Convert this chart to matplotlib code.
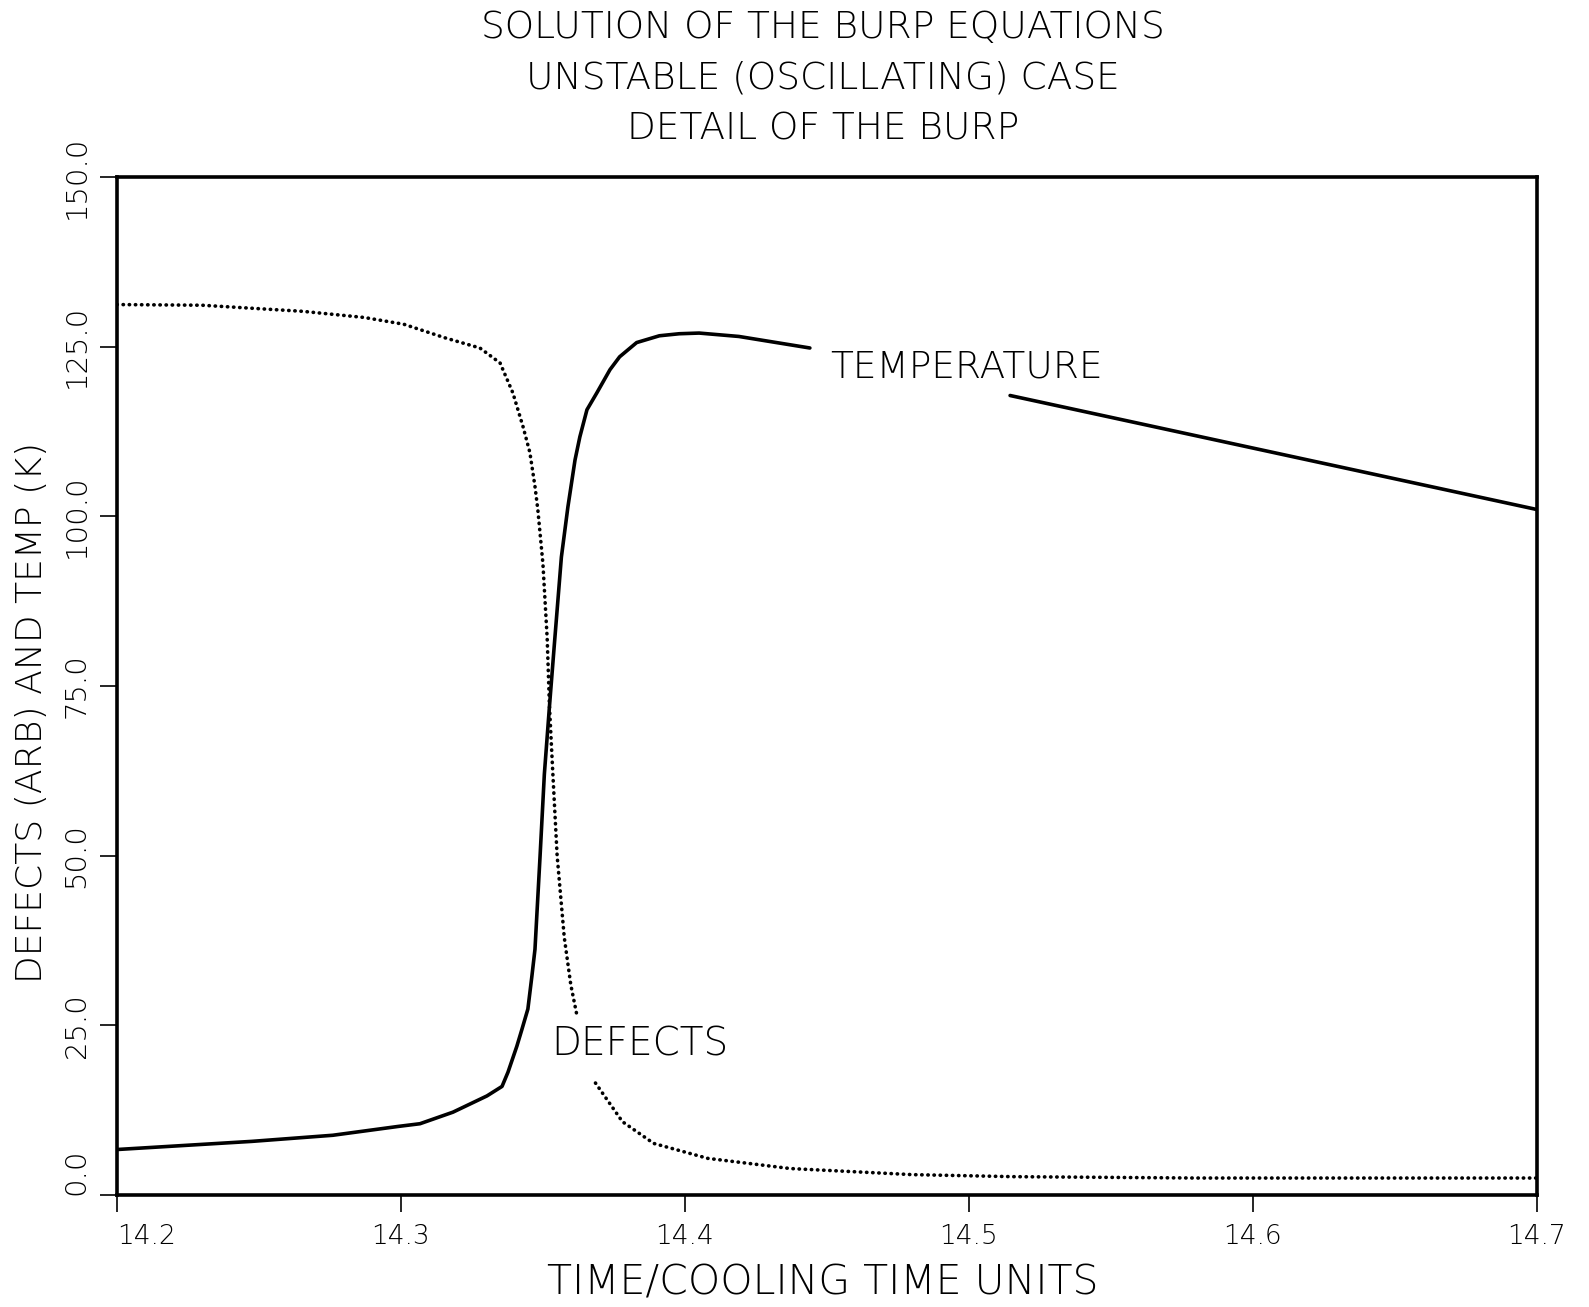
import matplotlib
matplotlib.use("Agg")
import matplotlib.pyplot as plt
import numpy as np

# ---- data ----
temp_time = [14.200, 14.2475, 14.276, 14.299, 14.3067, 14.3183, 14.3303, 14.3356,
             14.3377, 14.3408, 14.3426, 14.3447, 14.3461, 14.3472, 14.349, 14.3505,
             14.3523, 14.354, 14.3565, 14.3588, 14.3613, 14.363, 14.3655, 14.369,
             14.3736, 14.377, 14.383, 14.391, 14.398, 14.405, 14.419, 14.444,
             np.nan,
             14.5145, 14.700]
temp_value = [6.7, 7.9, 8.8, 10.1, 10.5, 12.2, 14.6, 16.0,
              18.1, 21.9, 24.4, 27.4, 32.2, 36.2, 50.0, 62.0,
              72.0, 81.0, 94.0, 101.4, 108.3, 111.7, 115.7, 118.2,
              121.6, 123.5, 125.6, 126.6, 126.9, 127.0, 126.5, 124.8,
              np.nan,
              117.8, 101.0]

def_time = [14.200, 14.230, 14.2655, 14.287, 14.301, 14.3155, 14.3278, 14.3349,
            14.3394, 14.343, 14.3454, 14.3472, 14.3482, 14.350, 14.3515, 14.3523,
            14.3535, 14.355, 14.3575, 14.3598, 14.362,
            np.nan,
            14.3685, 14.378, 14.389, 14.408, 14.437, 14.480, 14.5155, 14.580,
            14.700]
def_value = [131.2, 131.1, 130.2, 129.3, 128.3, 126.3, 124.8, 122.6,
             118.2, 113.2, 109.4, 104.4, 101.0, 93.0, 82.0, 72.0,
             62.0, 50.0, 38.0, 31.0, 26.4,
             np.nan,
             16.5, 10.8, 7.6, 5.4, 3.9, 3.0, 2.7, 2.5,
             2.5]

title_lines = ["SOLUTION OF THE BURP EQUATIONS",
               "UNSTABLE (OSCILLATING) CASE",
               "DETAIL OF THE BURP"]
x_ticks = [14.2, 14.3, 14.4, 14.5, 14.6, 14.7]
y_ticks = [0.0, 25.0, 50.0, 75.0, 100.0, 125.0, 150.0]

plt.rcParams['font.family'] = ['DejaVu Sans']

fig = plt.figure(figsize=(15.89, 13.07), dpi=100)
ax = fig.add_axes([0.0736, 0.0857, 0.8936, 0.7789])

ax.plot(temp_time, temp_value, color='black', lw=2.6, solid_capstyle='round',
        solid_joinstyle='round')
ax.plot(def_time, def_value, color='black', lw=2.6, linestyle=(0, (0.1, 1.6)),
        dash_capstyle='round')

ax.set_xlim(14.2, 14.7)
ax.set_ylim(0, 150)
ax.set_xticks(x_ticks)
ax.set_xticklabels([f"{v:.1f}" for v in x_ticks])
ax.set_yticks(y_ticks)
ax.set_yticklabels([f"{v:.1f}" for v in y_ticks])

for s in ax.spines.values():
    s.set_linewidth(2.6)

ax.tick_params(axis='both', direction='out', length=12, width=1.2, colors='black')
ax.tick_params(axis='x', pad=9, labelsize=19)
ax.tick_params(axis='y', pad=7, labelrotation=90, labelsize=21)
ylabs = ax.get_yticklabels()
for lab in ylabs:
    lab.set_va('center')
    lab.set_fontweight('light')
ylabs[0].set_va('bottom')
xlabs = ax.get_xticklabels()
for lab in xlabs:
    lab.set_fontweight('light')
xlabs[0].set_ha('left')

ax.text(14.4513, 122.0, "TEMPERATURE", fontsize=27, fontweight='light',
        ha='left', va='center')
ax.text(14.353, 22.2, "DEFECTS", fontsize=28, fontweight='light',
        ha='left', va='center')

for y, t in zip([0.979, 0.940, 0.901], title_lines):
    fig.text(0.518, y, t, fontsize=27, fontweight='light', ha='center', va='center')

fig.text(0.518, 0.018, "TIME/COOLING TIME UNITS", fontsize=29.5, fontweight='light',
         ha='center', va='center')
fig.text(0.020, 0.455, "DEFECTS (ARB) AND TEMP (K)", fontsize=26, fontweight='light',
         ha='center', va='center', rotation=90)

fig.savefig("out.png", dpi=100, facecolor='white')
